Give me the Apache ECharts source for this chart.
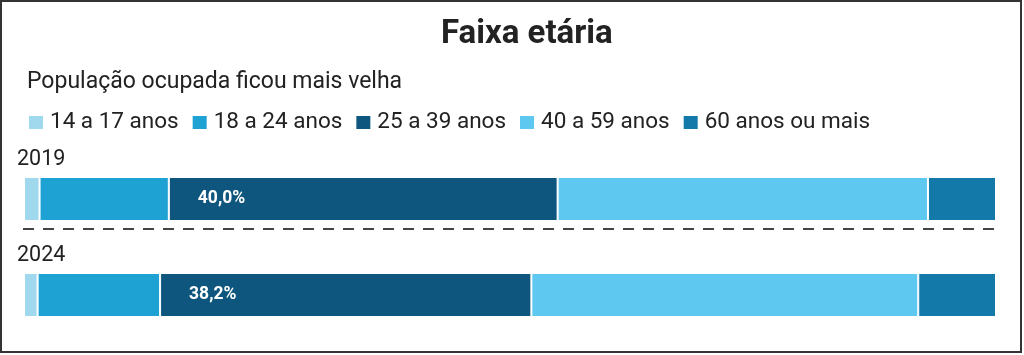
<!DOCTYPE html>
<html>
<head>
<meta charset="utf-8">
<script src="https://cdn.jsdelivr.net/npm/echarts@6/dist/echarts.min.js"></script>
<style>
html,body{margin:0;padding:0;background:#fff;}
#chart{width:1024px;height:355px;}
</style>
</head>
<body>
<div id="chart"></div>
<script>
const titleText = 'Faixa etária';
const subtitleText = 'População ocupada ficou mais velha';
const years = ['2019', '2024'];
const ageGroups = ['14 a 17 anos', '18 a 24 anos', '25 a 39 anos', '40 a 59 anos', '60 anos ou mais'];
const share14to17 = [1.6, 1.4];
const share18to24 = [13.3, 12.6];
const share25to39 = [40.0, 38.2];
const share40to59 = [38.1, 39.8];
const share60plus = [7.0, 8.0];
const labeledGroup = '25 a 39 anos';

const seriesValues = [share14to17, share18to24, share25to39, share40to59, share60plus];
const colors = ['#a0d8ed', '#1ea2d3', '#0e567e', '#5ec8f0', '#1279a8'];
const FONT = 'Roboto, "Noto Sans", sans-serif';

const chart = echarts.init(document.getElementById('chart'), null, {renderer: 'canvas'});

const series = ageGroups.map((name, i) => ({
  name: name,
  type: 'bar',
  stack: 'total',
  barWidth: 44,
  data: seriesValues[i],
  itemStyle: {color: colors[i], borderColor: '#ffffff', borderWidth: 1},
  label: {
    show: name === labeledGroup,
    position: [29, '50%'],
    align: 'left',
    verticalAlign: 'middle',
    color: '#ffffff',
    fontWeight: 'bold',
    fontSize: 17.5,
    fontFamily: FONT,
    formatter: p => p.value.toFixed(1).replace('.', ',') + '%'
  },
  emphasis: {disabled: true},
  animation: false
}));

chart.setOption({
  animation: false,
  backgroundColor: '#ffffff',
  title: [
    {text: titleText, left: 436, top: 13,
     textStyle: {fontFamily: FONT, fontSize: 33, fontWeight: 'bold', color: '#222222'}},
    {text: subtitleText, left: 22, top: 66,
     textStyle: {fontFamily: FONT, fontSize: 23, fontWeight: 'normal', color: '#222222'}}
  ],
  legend: {
    left: 22, top: 106,
    itemWidth: 16, itemHeight: 15, itemGap: 12,
    icon: 'rect',
    selectedMode: false,
    textStyle: {fontFamily: FONT, fontSize: 22.5, color: '#222222', padding: [0,0,0,1]},
    data: ageGroups
  },
  grid: {left: 24, right: 28, top: 151, height: 192, containLabel: false},
  xAxis: {type: 'value', min: 0, max: 100, show: false},
  yAxis: {
    type: 'category', data: years, inverse: true, z: 10,
    axisLine: {show: false}, axisTick: {show: false}, splitLine: {show: false},
    axisLabel: {
      inside: true, margin: -7, align: 'left', verticalAlign: 'middle',
      formatter: v => '{y|' + v + '}',
      rich: {y: {fontFamily: FONT, fontSize: 21.5, color: '#222222', padding: [0, 0, 78, 0]}}
    }
  },
  series: series,
  graphic: [
    {type: 'line', shape: {x1: 23, y1: 229, x2: 1000, y2: 229},
     style: {stroke: '#444444', lineWidth: 2, lineDash: [11, 9]}, silent: true},
    {type: 'rect', shape: {x: 1, y: 1, width: 1020, height: 351},
     style: {fill: 'none', stroke: '#333333', lineWidth: 2}, silent: true}
  ]
});
</script>
</body>
</html>
